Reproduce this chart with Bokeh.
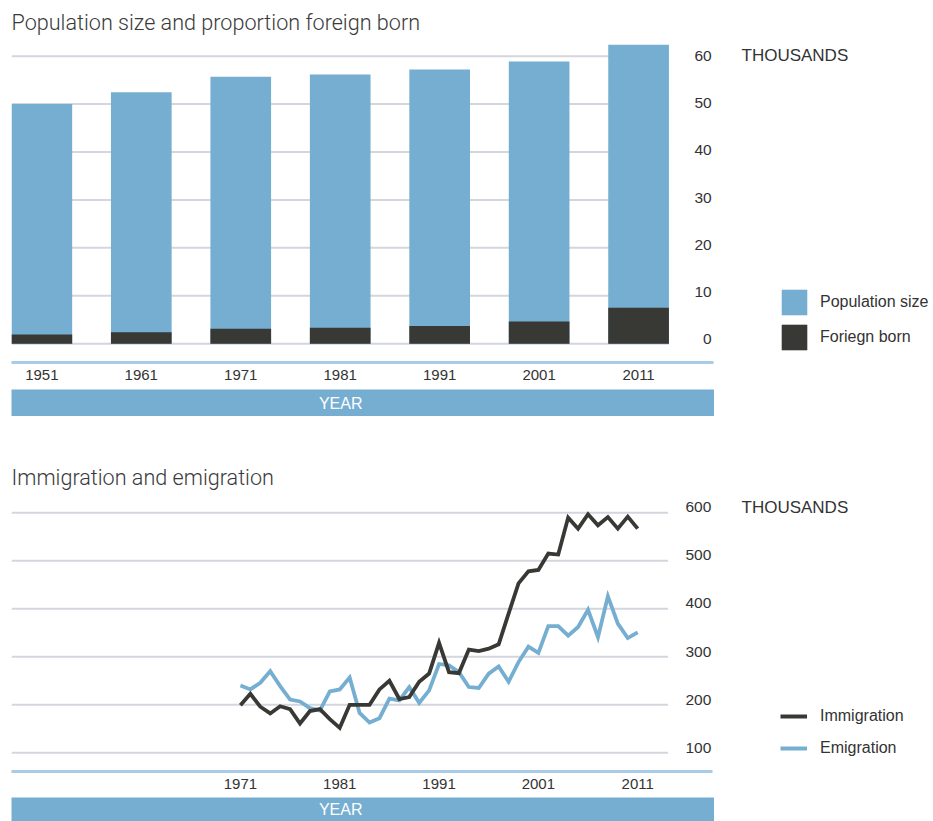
from bokeh.plotting import figure
from bokeh.models import Range1d, LinearAxis, FixedTicker, Label, Legend, LegendItem
from bokeh.layouts import column, row
from bokeh.embed import file_html
from bokeh.resources import INLINE

# ---------------- data ----------------
census_years = [1951, 1961, 1971, 1981, 1991, 2001, 2011]
population_size = [50.0, 52.5, 55.7, 56.2, 57.2, 58.9, 62.4]
foreign_born = [1.9, 2.4, 3.1, 3.3, 3.7, 4.6, 7.5]
pop_ticks = [0, 10, 20, 30, 40, 50, 60]

flow_years = list(range(1971, 2012))
immigration = [199, 223, 196, 182, 197, 191, 161, 187, 191, 170,
               152, 200, 200, 200, 232, 250, 212, 216, 248, 265,
               329, 268, 266, 315, 312, 317, 326, 390, 453, 478,
               481, 515, 513, 590, 567, 597, 574, 591, 567, 592, 567]
emigration = [240, 232, 246, 270, 239, 211, 207, 193, 188, 228,
              232, 257, 183, 163, 172, 213, 209, 237, 204, 230,
              285, 282, 268, 237, 235, 265, 280, 248, 289, 321,
              308, 364, 364, 344, 362, 398, 341, 426, 369, 339, 351]
flow_ticks = [100, 200, 300, 400, 500, 600]
flow_year_ticks = [1971, 1981, 1991, 2001, 2011]

# ---------------- style ----------------
BLUE = "#75aed1"
DARK = "#383835"
GRID = "#d3d6dc"
AXIS_BLUE = "#a9cbe5"
TEXT = "#333333"
TITLE = "#3a3a3a"
FONT = "Liberation Sans"
TITLE_FONT = "Roboto Light"

LEFT = 11
FRAME_W = 703
SIDE_W = 219
PX_PER_YEAR = 9.96
HALF_BAR = 3.05
x_start = census_years[0] - HALF_BAR
x_bars_end = census_years[-1] + HALF_BAR
x_end = x_start + FRAME_W / PX_PER_YEAR
xr = Range1d(x_start, x_end)


def style_xaxis(ax, ticks):
    ax.ticker = FixedTicker(ticks=ticks)
    ax.axis_line_color = AXIS_BLUE
    ax.axis_line_width = 3
    ax.major_tick_line_color = None
    ax.minor_tick_line_color = None
    ax.major_tick_out = 0
    ax.major_tick_in = 0
    ax.minor_tick_out = 0
    ax.minor_tick_in = 0
    ax.major_label_standoff = 7
    ax.major_label_text_font = FONT
    ax.major_label_text_font_size = "15px"
    ax.major_label_text_color = TEXT


def right_axis(p, ticks, standoff):
    ax = LinearAxis(y_range_name="lab", ticker=FixedTicker(ticks=ticks))
    ax.axis_line_color = None
    ax.major_tick_line_color = None
    ax.minor_tick_line_color = None
    ax.major_tick_out = 0
    ax.major_tick_in = 0
    ax.minor_tick_out = 0
    ax.minor_tick_in = 0
    ax.major_label_standoff = standoff
    ax.major_label_text_font = FONT
    ax.major_label_text_font_size = "15.5px"
    ax.major_label_text_color = TEXT
    p.add_layout(ax, "right")
    return ax


def style_title(p):
    p.title.text_font = TITLE_FONT
    p.title.text_font_size = "21.6px"
    p.title.text_font_style = "normal"
    p.title.text_color = TITLE
    p.title.standoff = 15
    p.title.offset = 0


def band(h):
    b = figure(width=LEFT + FRAME_W, height=h, x_range=xr, y_range=Range1d(0, 1),
               output_backend="svg", toolbar_location=None,
               x_axis_location=None, y_axis_location=None,
               min_border_left=LEFT, min_border_right=0,
               min_border_top=0, min_border_bottom=0,
               outline_line_color=None, background_fill_color=BLUE,
               border_fill_color="white")
    b.grid.visible = False
    b.add_layout(Label(x=(x_start + x_bars_end) / 2, y=0.5, text="YEAR",
                       text_align="center", text_baseline="middle",
                       text_color="white", text_font=FONT,
                       text_font_size="16px"))
    return b


def side(p, top, bottom, height):
    # side panel: x range in pixels; the chart's years fall far outside it,
    # so the legend-key renderers below stay off-screen
    s = figure(width=SIDE_W, height=height, x_range=Range1d(0, SIDE_W),
               y_range=p.y_range, output_backend="svg", toolbar_location=None,
               x_axis_location=None, y_axis_location=None,
               min_border_left=0, min_border_right=0,
               min_border_top=top, min_border_bottom=bottom,
               outline_line_color=None)
    s.extra_y_ranges = {"lab": p.extra_y_ranges["lab"]}
    s.grid.visible = False
    return s


def legend(items, loc, gw, gh, sp, so):
    return Legend(items=items, location=loc, glyph_width=gw, glyph_height=gh,
                  label_height=gh, spacing=sp, padding=0, margin=0,
                  label_standoff=so, border_line_color=None,
                  background_fill_alpha=0, label_text_font=FONT,
                  label_text_font_size="16px", label_text_color=TEXT)


# ---------------- top chart ----------------
H1, T1, B1 = 389, 40, 27
y1 = (-3.94, 62.86)
p1 = figure(width=LEFT + FRAME_W, height=H1, x_range=xr, y_range=Range1d(*y1),
            output_backend="svg", toolbar_location=None, y_axis_location=None,
            title="Population size and proportion foreign born",
            min_border_left=LEFT, min_border_right=0,
            min_border_top=T1, min_border_bottom=B1,
            outline_line_color=None)
p1.extra_y_ranges = {"lab": Range1d(-4.98, 62.67)}
p1.grid.visible = False
style_title(p1)
p1.segment(x0=x_start, y0=pop_ticks, x1=x_bars_end, y1=pop_ticks,
           line_color=GRID, line_width=2)
p1.vbar(x=census_years, top=population_size, width=2 * HALF_BAR,
        fill_color=BLUE, line_color=None)
p1.vbar(x=census_years, top=foreign_born, width=2 * HALF_BAR,
        fill_color=DARK, line_color=None)
style_xaxis(p1.xaxis[0], census_years)
ya1 = right_axis(p1, pop_ticks, -19)
ya1.major_label_overrides = {0: "\u20070"}

s1 = side(p1, T1, B1, H1)
s1.add_layout(Label(x=27, y=pop_ticks[-1], y_range_name="lab",
                    text="THOUSANDS", text_baseline="middle",
                    text_font=FONT, text_font_size="17px", text_color=TEXT))
k_pop = s1.vbar(x=census_years, top=population_size, width=1,
                fill_color=BLUE, line_color=None)
k_fb = s1.vbar(x=census_years, top=foreign_born, width=1,
               fill_color=DARK, line_color=None)
s1.add_layout(legend([LegendItem(label="Population size", renderers=[k_pop]),
                      LegendItem(label="Foriegn born", renderers=[k_fb])],
                     (64, 9), 32, 32, 3, 10))

# ---------------- bottom chart ----------------
H3, T3, B3 = 381, 81, 26
y3 = (61.0, 631.9)
p3 = figure(width=LEFT + FRAME_W, height=H3, x_range=xr, y_range=Range1d(*y3),
            output_backend="svg", toolbar_location=None, y_axis_location=None,
            title="Immigration and emigration",
            min_border_left=LEFT, min_border_right=0,
            min_border_top=T3, min_border_bottom=B3,
            outline_line_color=None)
p3.extra_y_ranges = {"lab": Range1d(50.5, 620.2)}
p3.grid.visible = False
style_title(p3)
p3.segment(x0=x_start, y0=flow_ticks, x1=x_bars_end, y1=flow_ticks,
           line_color=GRID, line_width=2)
p3.line(flow_years, emigration, line_color=BLUE, line_width=3.8,
        line_join="miter")
p3.line(flow_years, immigration, line_color=DARK, line_width=3.8,
        line_join="miter")
style_xaxis(p3.xaxis[0], flow_year_ticks)
right_axis(p3, flow_ticks, -27)

s3 = side(p3, T3, B3, H3)
s3.add_layout(Label(x=27, y=flow_ticks[-1], y_range_name="lab",
                    text="THOUSANDS", text_baseline="middle",
                    text_font=FONT, text_font_size="17px", text_color=TEXT))
k_imm = s3.line(flow_years, immigration, line_color=DARK, line_width=4)
k_emi = s3.line(flow_years, emigration, line_color=BLUE, line_width=4)
s3.add_layout(legend([LegendItem(label="Immigration", renderers=[k_imm]),
                      LegendItem(label="Emigration", renderers=[k_emi])],
                     (66, 13), 27, 20, 12, 13))

layout = column(row(p1, s1, spacing=0), band(27),
                row(p3, s3, spacing=0), band(24), spacing=0)

open("out.html", "w").write(file_html(layout, INLINE))
